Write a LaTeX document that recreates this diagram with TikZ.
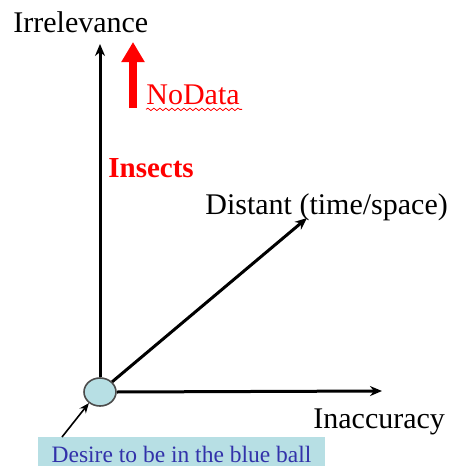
\documentclass[tikz,border=0pt]{standalone}
\usepackage{fontspec}
\setmainfont{Liberation Serif}
\usetikzlibrary{arrows.meta, shapes.geometric, decorations.pathmorphing}
\usepackage{xcolor}
\definecolor{ballblue}{RGB}{183,223,228}
\definecolor{deepred}{RGB}{255,0,0}
\definecolor{textblue}{RGB}{50,50,170}

\begin{document}
\begin{tikzpicture}[x=0.5pt, y=-0.5pt,
    axis/.style={line width=1.5pt, -{Stealth[length=6pt, width=5pt]}},
    lab/.style={inner sep=0pt, font=\fontsize{15}{18}\selectfont},
    ball/.style={ellipse, draw=black!70, line width=0.8pt, fill=ballblue,
      minimum width=16pt, minimum height=14pt, inner sep=0pt}]
  \useasboundingbox (0,0) rectangle (455,466);

  % origin ball and axes
  \node[ball] (ball) at (100,392) {};
  \coordinate (irrtip) at (100,44);
  \coordinate (inactip) at (382,391);
  \coordinate (disttip) at (307,218);
  \draw[axis] (ball.north) -- (irrtip);
  \draw[axis] (ball.east) -- (inactip);
  \draw[axis] (ball.40) -- (disttip);

  \node[lab, anchor=west] (irr) at (13,22) {Irrelevance};
  \node[lab, anchor=west] (inacc) at (313,422) {Inaccuracy};
  \node[lab, anchor=west] (dist) at (205,207) {Distant (time/space)};

  % red labels
  \coordinate (nodbase) at (133,108);
  \coordinate (nodtip) at (133,42);
  \draw[deepred, line width=4pt, -{Triangle[length=10pt, width=11pt]}] (nodbase) -- (nodtip);
  \node[lab, anchor=west, text=deepred] (nodata) at (146,95) {NoData};
  \draw[deepred, line width=0.4pt, decorate,
    decoration={snake, amplitude=0.6pt, segment length=3pt}]
    (nodata.south west) ++(0,4) -- ++(96,0);
  \node[lab, anchor=west, text=deepred, font=\fontsize{14.5}{17}\selectfont\bfseries]
    (insects) at (108,168) {Insects};

  % caption box
  \node[anchor=north, fill=ballblue, inner xsep=0pt, inner ysep=0pt,
    minimum width=143.5pt, text height=12.3pt, text depth=2.5pt,
    text=textblue, font=\fontsize{11.75}{14}\selectfont] (desire) at (181.5,437)
    {Desire to be in the blue ball};
  \coordinate (desfoot) at (62,437);
  \draw[line width=0.8pt, -{Stealth[length=5pt, width=4pt]}] (desfoot) -- (ball.225);
\end{tikzpicture}
\end{document}
